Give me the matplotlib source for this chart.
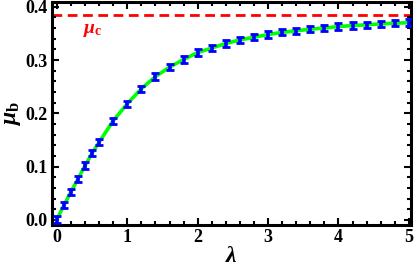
import matplotlib
matplotlib.use("Agg")
import matplotlib.pyplot as plt
from matplotlib.ticker import MultipleLocator

lam = [0.0, 0.1, 0.2, 0.3, 0.4, 0.5, 0.6, 0.8, 1.0, 1.2, 1.4, 1.6, 1.8, 2.0,
       2.2, 2.4, 2.6, 2.8, 3.0, 3.2, 3.4, 3.6, 3.8, 4.0, 4.2, 4.4, 4.6, 4.8, 5.0]
mu_b = [0.001, 0.0275, 0.0525, 0.077, 0.102, 0.125, 0.146, 0.186, 0.218, 0.246,
        0.269, 0.2865, 0.301, 0.314, 0.3225, 0.331, 0.3377, 0.3428, 0.3477,
        0.352, 0.3548, 0.3578, 0.360, 0.3627, 0.3646, 0.366, 0.3677, 0.369, 0.370]
mu_err = [0.006] * len(lam)
mu_c = 0.385

plt.rcParams['font.family'] = ['Liberation Serif', 'DejaVu Serif']
plt.rcParams['font.weight'] = 'bold'
plt.rcParams['mathtext.fontset'] = 'custom'
plt.rcParams['mathtext.rm'] = 'Liberation Serif:bold'
plt.rcParams['mathtext.it'] = 'Liberation Serif:bold:italic'
plt.rcParams['mathtext.bf'] = 'Liberation Serif:bold'

fig = plt.figure(figsize=(4.15, 2.71), dpi=100)
ax = fig.add_axes([0.125, 0.170, 0.865, 0.823])

ax.axhline(mu_c, color='#ff0000', lw=2, ls=(0, (3.5, 2.0)), zorder=1)
ax.plot(lam, mu_b, color='#00ff00', lw=2.6, zorder=2)
ax.errorbar(lam, mu_b, yerr=mu_err, fmt='none', ecolor='#0000ff',
            elinewidth=2.6, capsize=2.8, capthick=2.0, zorder=3)

ax.text(0.37, 0.356, r'$\mu_{\rm c}$', color='#ff0000', fontsize=14,
        fontweight='bold', va='center', ha='left')

ax.set_xlim(-0.071, 5.028)
ax.set_ylim(-0.0094, 0.409)
ax.xaxis.set_major_locator(MultipleLocator(1))
ax.xaxis.set_minor_locator(MultipleLocator(0.2))
ax.yaxis.set_major_locator(MultipleLocator(0.1))
ax.yaxis.set_minor_locator(MultipleLocator(0.02))
ax.set_xticks([0, 1, 2, 3, 4, 5])
ax.set_xticklabels(['0', '1', '2', '3', '4', '5'])
ax.set_yticks([0.0, 0.1, 0.2, 0.3, 0.4])
ax.set_yticklabels(['0.0', '0.1', '0.2', '0.3', '0.4'])

ax.tick_params(which='both', direction='in', top=True, right=True,
               labelsize=13, width=1.5, colors='black', pad=3)
ax.tick_params(which='major', length=5)
ax.tick_params(which='minor', length=3)
for lbl in ax.get_xticklabels() + ax.get_yticklabels():
    lbl.set_fontweight('bold')
for s in ax.spines.values():
    s.set_linewidth(2.2)

ax.set_xlabel(r'$\lambda$', fontsize=17, labelpad=0)
ax.set_ylabel(r'$\mu_{\rm b}$', fontsize=17, labelpad=2)

fig.savefig('out.png', dpi=100)
